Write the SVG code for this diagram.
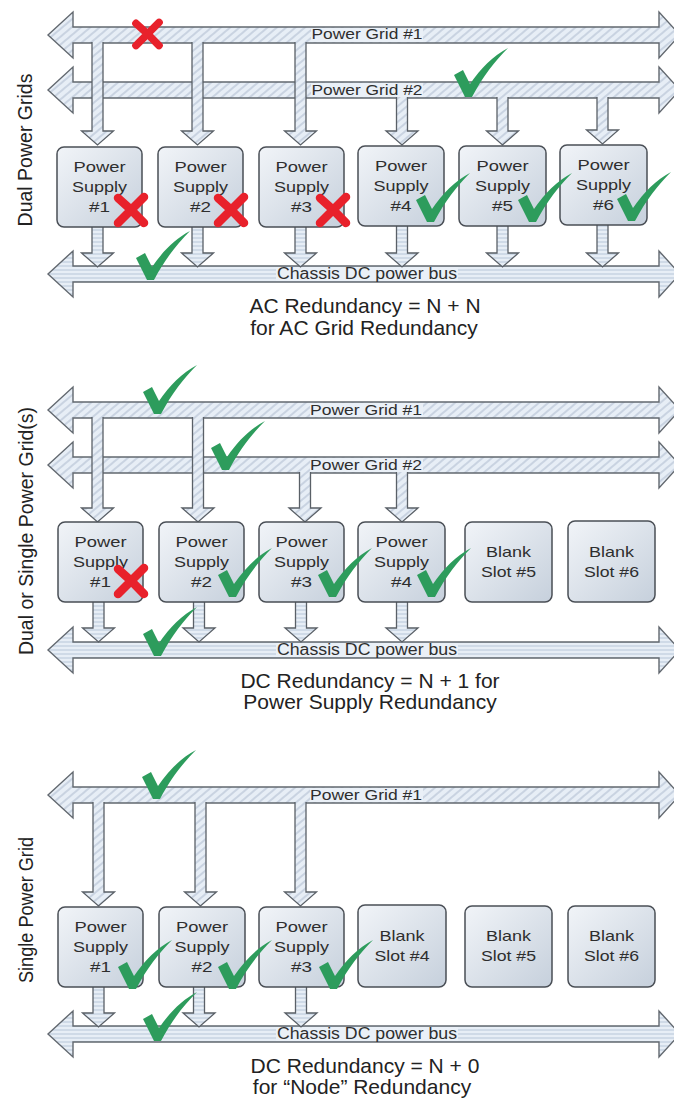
<svg xmlns="http://www.w3.org/2000/svg" xmlns:xlink="http://www.w3.org/1999/xlink" width="674" height="1102" viewBox="0 0 674 1102">
<defs>
  <pattern id="hatchD" width="6" height="6" patternUnits="userSpaceOnUse" patternTransform="rotate(50)">
    <rect width="6" height="6" fill="#e7eef6"/>
    <line x1="1" y1="0" x2="1" y2="6" stroke="#bfcbda" stroke-width="1.5"/>
  </pattern>
  <pattern id="hatchH" width="4" height="4" patternUnits="userSpaceOnUse">
    <rect width="4" height="4" fill="#e7eef6"/>
    <line x1="0" y1="2" x2="4" y2="2" stroke="#bccadb" stroke-width="1.1"/>
  </pattern>
  <linearGradient id="boxg" x1="0" y1="0" x2="1" y2="1">
    <stop offset="0" stop-color="#f1f4f8"/>
    <stop offset="1" stop-color="#c6d0dc"/>
  </linearGradient>
  <symbol id="chk" viewBox="0 0 55 50">
    <path d="M1,27 L10,22 L17,36 C28,20 40,8 55,0 C42,13 30,28 19,49 L12,49 Z" fill="#2d9c5c"/>
  </symbol>
  <symbol id="xx" viewBox="0 0 38 36">
    <path d="M6,6 Q19,17 32,31 M32,5 Q20,17 6,31" fill="none" stroke="#e8212b" stroke-width="8.5" stroke-linecap="round"/>
  </symbol>
</defs>
<style>
  .grid { fill: url(#hatchD); stroke: #62686f; stroke-width: 1.4; stroke-linejoin: miter; }
  .bus { fill: url(#hatchH); stroke: #62686f; stroke-width: 1.4; }
  .feedD { fill: url(#hatchD); stroke: #5a6067; stroke-width: 1.3; }
  .feedH { fill: url(#hatchH); stroke: #5a6067; stroke-width: 1.3; }
  .lblbg { fill: #eaf0f7; }
  .barlbl { font-family: "Liberation Sans", Arial, sans-serif; font-size: 14px; fill: #2e2e2e; text-anchor: middle; }
  .buslbl { font-family: "Liberation Sans", Arial, sans-serif; font-size: 16px; fill: #2e2e2e; text-anchor: middle; }
  .box { fill: url(#boxg); stroke: #4a4f56; stroke-width: 1.5; }
  .boxt { font-family: "Liberation Sans", Arial, sans-serif; font-size: 15px; fill: #2e2e2e; text-anchor: middle; }
  .cap { font-family: "Liberation Sans", Arial, sans-serif; font-size: 21px; fill: #222; text-anchor: middle; }
  .side { font-family: "Liberation Sans", Arial, sans-serif; font-size: 19.5px; fill: #222; text-anchor: middle; }
</style>
<rect width="674" height="1102" fill="#ffffff"/>

<!-- ================= Section 1 ================= -->
<g id="s1-grid1">
  <path class="grid" d="M48,35 L73,12 L73,27 L659,27 L659,12 L680,35 L659,58 L659,43 L73,43 L73,58 Z"/>
  <rect class="lblbg" x="311" y="28" width="112" height="14"/>
  <text class="barlbl" x="367" y="39" textLength="111" lengthAdjust="spacingAndGlyphs">Power Grid #1</text>
</g>
<g id="s1-grid2">
  <path class="grid" d="M48,90 L73,67 L73,82 L659,82 L659,67 L680,90 L659,113 L659,98 L73,98 L73,113 Z"/>
  <rect class="lblbg" x="311" y="83" width="112" height="14"/>
  <text class="barlbl" x="367" y="94.5" textLength="111" lengthAdjust="spacingAndGlyphs">Power Grid #2</text>
</g>
<g id="s1-bus">
  <path class="bus" d="M48,274 L73,251 L73,266 L659,266 L659,251 L680,274 L659,297 L659,282 L73,282 L73,297 Z"/>
  <rect class="lblbg" x="276" y="267" width="182" height="14"/>
  <text class="buslbl" x="367" y="279" textLength="180" lengthAdjust="spacingAndGlyphs">Chassis DC power bus</text>
</g>

<!-- ================= Section 2 ================= -->
<g id="s2-grid1">
  <path class="grid" d="M48,410 L73,387 L73,402 L659,402 L659,387 L680,410 L659,433 L659,418 L73,418 L73,433 Z"/>
  <rect class="lblbg" x="310" y="403" width="113" height="14"/>
  <text class="barlbl" x="366" y="414.5" textLength="112" lengthAdjust="spacingAndGlyphs">Power Grid #1</text>
</g>
<g id="s2-grid2">
  <path class="grid" d="M48,465 L73,442 L73,457 L659,457 L659,442 L680,465 L659,488 L659,473 L73,473 L73,488 Z"/>
  <rect class="lblbg" x="310" y="458" width="113" height="14"/>
  <text class="barlbl" x="366" y="469.5" textLength="112" lengthAdjust="spacingAndGlyphs">Power Grid #2</text>
</g>
<g id="s2-bus">
  <path class="bus" d="M48,650 L73,627 L73,642 L659,642 L659,627 L680,650 L659,673 L659,658 L73,658 L73,673 Z"/>
  <rect class="lblbg" x="276" y="643" width="182" height="14"/>
  <text class="buslbl" x="367" y="655" textLength="180" lengthAdjust="spacingAndGlyphs">Chassis DC power bus</text>
</g>

<!-- ================= Section 3 ================= -->
<g id="s3-grid1">
  <path class="grid" d="M48,795 L73,772 L73,787 L659,787 L659,772 L680,795 L659,818 L659,803 L73,803 L73,818 Z"/>
  <rect class="lblbg" x="310" y="788" width="113" height="14"/>
  <text class="barlbl" x="366" y="799.5" textLength="112" lengthAdjust="spacingAndGlyphs">Power Grid #1</text>
</g>
<g id="s3-bus">
  <path class="bus" d="M48,1034 L73,1011 L73,1026 L659,1026 L659,1011 L680,1034 L659,1057 L659,1042 L73,1042 L73,1057 Z"/>
  <rect class="lblbg" x="276" y="1027" width="182" height="14"/>
  <text class="buslbl" x="367" y="1039" textLength="180" lengthAdjust="spacingAndGlyphs">Chassis DC power bus</text>
</g>

<!-- ================= Connectors ================= -->
<g id="connectors">
  <!-- section 1 grid feeds -->
  <path class="feedD" d="M92,42 L92,131 L81.5,131 L97.5,145 L113.5,131 L103,131 L103,42"/>
  <path class="feedD" d="M192,42 L192,131 L181.5,131 L197.5,145 L213.5,131 L203,131 L203,42"/>
  <path class="feedD" d="M295,42 L295,131 L284.5,131 L300.5,145 L316.5,131 L306,131 L306,42"/>
  <path class="feedD" d="M396.5,97 L396.5,131 L386,131 L402,145 L418,131 L407.5,131 L407.5,97"/>
  <path class="feedD" d="M497,97 L497,131 L486.5,131 L502.5,145 L518.5,131 L508,131 L508,97"/>
  <path class="feedD" d="M597,97 L597,130 L586.5,130 L602.5,144 L618.5,130 L608,130 L608,97"/>
  <!-- section 1 bus feeds -->
  <path class="feedH" d="M92,226 L92,253 L81.5,253 L97.5,267 L113.5,253 L103,253 L103,226"/>
  <path class="feedH" d="M192,226 L192,253 L181.5,253 L197.5,267 L213.5,253 L203,253 L203,226"/>
  <path class="feedH" d="M295,226 L295,253 L284.5,253 L300.5,267 L316.5,253 L306,253 L306,226"/>
  <path class="feedH" d="M396.5,226 L396.5,253 L386,253 L402,267 L418,253 L407.5,253 L407.5,226"/>
  <path class="feedH" d="M497,225 L497,253 L486.5,253 L502.5,267 L518.5,253 L508,253 L508,225"/>
  <path class="feedH" d="M597,224 L597,253 L586.5,253 L602.5,267 L618.5,253 L608,253 L608,224"/>
  <!-- section 2 grid feeds -->
  <path class="feedD" d="M92,417 L92,508 L81.5,508 L97.5,522 L113.5,508 L103,508 L103,417"/>
  <path class="feedD" d="M192.5,417 L192.5,508 L182,508 L198,522 L214,508 L203.5,508 L203.5,417"/>
  <path class="feedD" d="M299.5,472 L299.5,508 L289,508 L305,522 L321,508 L310.5,508 L310.5,472"/>
  <path class="feedD" d="M396.5,472 L396.5,508 L386,508 L402,522 L418,508 L407.5,508 L407.5,472"/>
  <!-- section 2 bus feeds -->
  <path class="feedH" d="M93,601 L93,628 L82.5,628 L98.5,642 L114.5,628 L104,628 L104,601"/>
  <path class="feedH" d="M193.5,601 L193.5,628 L183,628 L199,642 L215,628 L204.5,628 L204.5,601"/>
  <path class="feedH" d="M295.5,601 L295.5,628 L285,628 L301,642 L317,628 L306.5,628 L306.5,601"/>
  <path class="feedH" d="M396.5,601 L396.5,628 L386,628 L402,642 L418,628 L407.5,628 L407.5,601"/>
  <!-- section 3 grid feeds -->
  <path class="feedD" d="M93,802 L93,892 L82.5,892 L98.5,906 L114.5,892 L104,892 L104,802"/>
  <path class="feedD" d="M195,802 L195,892 L184.5,892 L200.5,906 L216.5,892 L206,892 L206,802"/>
  <path class="feedD" d="M295,802 L295,892 L284.5,892 L300.5,906 L316.5,892 L306,892 L306,802"/>
  <!-- section 3 bus feeds -->
  <path class="feedH" d="M93,986 L93,1013 L82.5,1013 L98.5,1027 L114.5,1013 L104,1013 L104,986"/>
  <path class="feedH" d="M193.5,986 L193.5,1013 L183,1013 L199,1027 L215,1013 L204.5,1013 L204.5,986"/>
  <path class="feedH" d="M295.5,986 L295.5,1013 L285,1013 L301,1027 L317,1013 L306.5,1013 L306.5,986"/>
</g>

<!-- ================= Boxes Section 1 ================= -->
<g id="s1-ps1"><rect class="box" x="57" y="147" width="85" height="80" rx="7"/>
  <text class="boxt" x="99.5" y="172" textLength="52" lengthAdjust="spacingAndGlyphs">Power</text>
  <text class="boxt" x="99.5" y="192" textLength="55" lengthAdjust="spacingAndGlyphs">Supply</text>
  <text class="boxt" x="99.5" y="212" textLength="21" lengthAdjust="spacingAndGlyphs">#1</text></g>
<g id="s1-ps2"><rect class="box" x="158" y="147" width="85" height="80" rx="7"/>
  <text class="boxt" x="200.5" y="172" textLength="52" lengthAdjust="spacingAndGlyphs">Power</text>
  <text class="boxt" x="200.5" y="192" textLength="55" lengthAdjust="spacingAndGlyphs">Supply</text>
  <text class="boxt" x="200.5" y="212" textLength="21" lengthAdjust="spacingAndGlyphs">#2</text></g>
<g id="s1-ps3"><rect class="box" x="259" y="147" width="85" height="80" rx="7"/>
  <text class="boxt" x="301.5" y="172" textLength="52" lengthAdjust="spacingAndGlyphs">Power</text>
  <text class="boxt" x="301.5" y="192" textLength="55" lengthAdjust="spacingAndGlyphs">Supply</text>
  <text class="boxt" x="301.5" y="212" textLength="21" lengthAdjust="spacingAndGlyphs">#3</text></g>
<g id="s1-ps4"><rect class="box" x="358" y="146" width="86" height="80" rx="7"/>
  <text class="boxt" x="401" y="171" textLength="52" lengthAdjust="spacingAndGlyphs">Power</text>
  <text class="boxt" x="401" y="191" textLength="55" lengthAdjust="spacingAndGlyphs">Supply</text>
  <text class="boxt" x="401" y="211" textLength="21" lengthAdjust="spacingAndGlyphs">#4</text></g>
<g id="s1-ps5"><rect class="box" x="459" y="146" width="87" height="80" rx="7"/>
  <text class="boxt" x="502.5" y="171" textLength="52" lengthAdjust="spacingAndGlyphs">Power</text>
  <text class="boxt" x="502.5" y="191" textLength="55" lengthAdjust="spacingAndGlyphs">Supply</text>
  <text class="boxt" x="502.5" y="211" textLength="21" lengthAdjust="spacingAndGlyphs">#5</text></g>
<g id="s1-ps6"><rect class="box" x="560" y="145" width="87" height="80" rx="7"/>
  <text class="boxt" x="603.5" y="170" textLength="52" lengthAdjust="spacingAndGlyphs">Power</text>
  <text class="boxt" x="603.5" y="190" textLength="55" lengthAdjust="spacingAndGlyphs">Supply</text>
  <text class="boxt" x="603.5" y="210" textLength="21" lengthAdjust="spacingAndGlyphs">#6</text></g>

<!-- ================= Boxes Section 2 ================= -->
<g id="s2-ps1"><rect class="box" x="58" y="522" width="85" height="80" rx="7"/>
  <text class="boxt" x="100.5" y="547" textLength="52" lengthAdjust="spacingAndGlyphs">Power</text>
  <text class="boxt" x="100.5" y="567" textLength="55" lengthAdjust="spacingAndGlyphs">Supply</text>
  <text class="boxt" x="100.5" y="587" textLength="21" lengthAdjust="spacingAndGlyphs">#1</text></g>
<g id="s2-ps2"><rect class="box" x="159" y="522" width="85" height="80" rx="7"/>
  <text class="boxt" x="201.5" y="547" textLength="52" lengthAdjust="spacingAndGlyphs">Power</text>
  <text class="boxt" x="201.5" y="567" textLength="55" lengthAdjust="spacingAndGlyphs">Supply</text>
  <text class="boxt" x="201.5" y="587" textLength="21" lengthAdjust="spacingAndGlyphs">#2</text></g>
<g id="s2-ps3"><rect class="box" x="259" y="522" width="85" height="80" rx="7"/>
  <text class="boxt" x="301.5" y="547" textLength="52" lengthAdjust="spacingAndGlyphs">Power</text>
  <text class="boxt" x="301.5" y="567" textLength="55" lengthAdjust="spacingAndGlyphs">Supply</text>
  <text class="boxt" x="301.5" y="587" textLength="21" lengthAdjust="spacingAndGlyphs">#3</text></g>
<g id="s2-ps4"><rect class="box" x="358" y="522" width="87" height="80" rx="7"/>
  <text class="boxt" x="401.5" y="547" textLength="52" lengthAdjust="spacingAndGlyphs">Power</text>
  <text class="boxt" x="401.5" y="567" textLength="55" lengthAdjust="spacingAndGlyphs">Supply</text>
  <text class="boxt" x="401.5" y="587" textLength="21" lengthAdjust="spacingAndGlyphs">#4</text></g>
<g id="s2-blank5"><rect class="box" x="465" y="522" width="87" height="80" rx="7"/>
  <text class="boxt" x="508.5" y="557" textLength="45" lengthAdjust="spacingAndGlyphs">Blank</text>
  <text class="boxt" x="508.5" y="577" textLength="55" lengthAdjust="spacingAndGlyphs">Slot #5</text></g>
<g id="s2-blank6"><rect class="box" x="568" y="521" width="87" height="81" rx="7"/>
  <text class="boxt" x="611.5" y="557" textLength="45" lengthAdjust="spacingAndGlyphs">Blank</text>
  <text class="boxt" x="611.5" y="577" textLength="55" lengthAdjust="spacingAndGlyphs">Slot #6</text></g>

<!-- ================= Boxes Section 3 ================= -->
<g id="s3-ps1"><rect class="box" x="58" y="907" width="85" height="80" rx="7"/>
  <text class="boxt" x="100.5" y="932" textLength="52" lengthAdjust="spacingAndGlyphs">Power</text>
  <text class="boxt" x="100.5" y="952" textLength="55" lengthAdjust="spacingAndGlyphs">Supply</text>
  <text class="boxt" x="100.5" y="972" textLength="21" lengthAdjust="spacingAndGlyphs">#1</text></g>
<g id="s3-ps2"><rect class="box" x="159" y="907" width="86" height="80" rx="7"/>
  <text class="boxt" x="202" y="932" textLength="52" lengthAdjust="spacingAndGlyphs">Power</text>
  <text class="boxt" x="202" y="952" textLength="55" lengthAdjust="spacingAndGlyphs">Supply</text>
  <text class="boxt" x="202" y="972" textLength="21" lengthAdjust="spacingAndGlyphs">#2</text></g>
<g id="s3-ps3"><rect class="box" x="259" y="907" width="85" height="80" rx="7"/>
  <text class="boxt" x="301.5" y="932" textLength="52" lengthAdjust="spacingAndGlyphs">Power</text>
  <text class="boxt" x="301.5" y="952" textLength="55" lengthAdjust="spacingAndGlyphs">Supply</text>
  <text class="boxt" x="301.5" y="972" textLength="21" lengthAdjust="spacingAndGlyphs">#3</text></g>
<g id="s3-blank4"><rect class="box" x="358" y="905" width="88" height="82" rx="7"/>
  <text class="boxt" x="402" y="941" textLength="45" lengthAdjust="spacingAndGlyphs">Blank</text>
  <text class="boxt" x="402" y="961" textLength="55" lengthAdjust="spacingAndGlyphs">Slot #4</text></g>
<g id="s3-blank5"><rect class="box" x="465" y="906" width="87" height="81" rx="7"/>
  <text class="boxt" x="508.5" y="941" textLength="45" lengthAdjust="spacingAndGlyphs">Blank</text>
  <text class="boxt" x="508.5" y="961" textLength="55" lengthAdjust="spacingAndGlyphs">Slot #5</text></g>
<g id="s3-blank6"><rect class="box" x="568" y="906" width="87" height="81" rx="7"/>
  <text class="boxt" x="611.5" y="941" textLength="45" lengthAdjust="spacingAndGlyphs">Blank</text>
  <text class="boxt" x="611.5" y="961" textLength="55" lengthAdjust="spacingAndGlyphs">Slot #6</text></g>

<!-- ================= Status marks ================= -->
<g id="marks">
  <use href="#xx" x="130" y="18" width="35" height="32"/>
  <use href="#chk" x="453" y="48" width="55" height="50"/>
  <use href="#xx" x="112" y="192" width="38" height="36"/>
  <use href="#xx" x="212" y="192" width="38" height="36"/>
  <use href="#xx" x="314" y="192" width="38" height="36"/>
  <use href="#chk" x="415" y="173" width="55" height="50"/>
  <use href="#chk" x="517" y="173" width="55" height="50"/>
  <use href="#chk" x="616" y="172" width="55" height="50"/>
  <use href="#chk" x="135" y="231" width="55" height="50"/>

  <use href="#chk" x="142" y="365" width="55" height="50"/>
  <use href="#chk" x="210" y="421" width="55" height="50"/>
  <use href="#xx" x="112" y="563" width="38" height="36"/>
  <use href="#chk" x="217" y="548" width="55" height="50"/>
  <use href="#chk" x="317" y="548" width="55" height="50"/>
  <use href="#chk" x="416" y="548" width="55" height="50"/>
  <use href="#chk" x="142" y="607" width="55" height="50"/>

  <use href="#chk" x="141" y="750" width="55" height="50"/>
  <use href="#chk" x="117" y="940" width="55" height="50"/>
  <use href="#chk" x="217" y="940" width="55" height="50"/>
  <use href="#chk" x="318" y="940" width="55" height="50"/>
  <use href="#chk" x="142" y="992" width="55" height="50"/>
</g>

<!-- ================= Captions and side labels ================= -->
<g id="captions">
  <text class="cap" x="365" y="313">AC Redundancy = N + N</text>
  <text class="cap" x="364" y="335">for AC Grid Redundancy</text>
  <text class="cap" x="370" y="688">DC Redundancy = N + 1 for</text>
  <text class="cap" x="370" y="709">Power Supply Redundancy</text>
  <text class="cap" x="365" y="1073">DC Redundancy = N + 0</text>
  <text class="cap" x="362" y="1094">for “Node” Redundancy</text>
</g>
<g id="side-labels">
  <text class="side" transform="translate(32,150) rotate(-90)">Dual Power Grids</text>
  <text class="side" transform="translate(33,531) rotate(-90)">Dual or Single Power Grid(s)</text>
  <text class="side" transform="translate(33,910) rotate(-90)" textLength="146" lengthAdjust="spacingAndGlyphs">Single Power Grid</text>
</g>
</svg>
